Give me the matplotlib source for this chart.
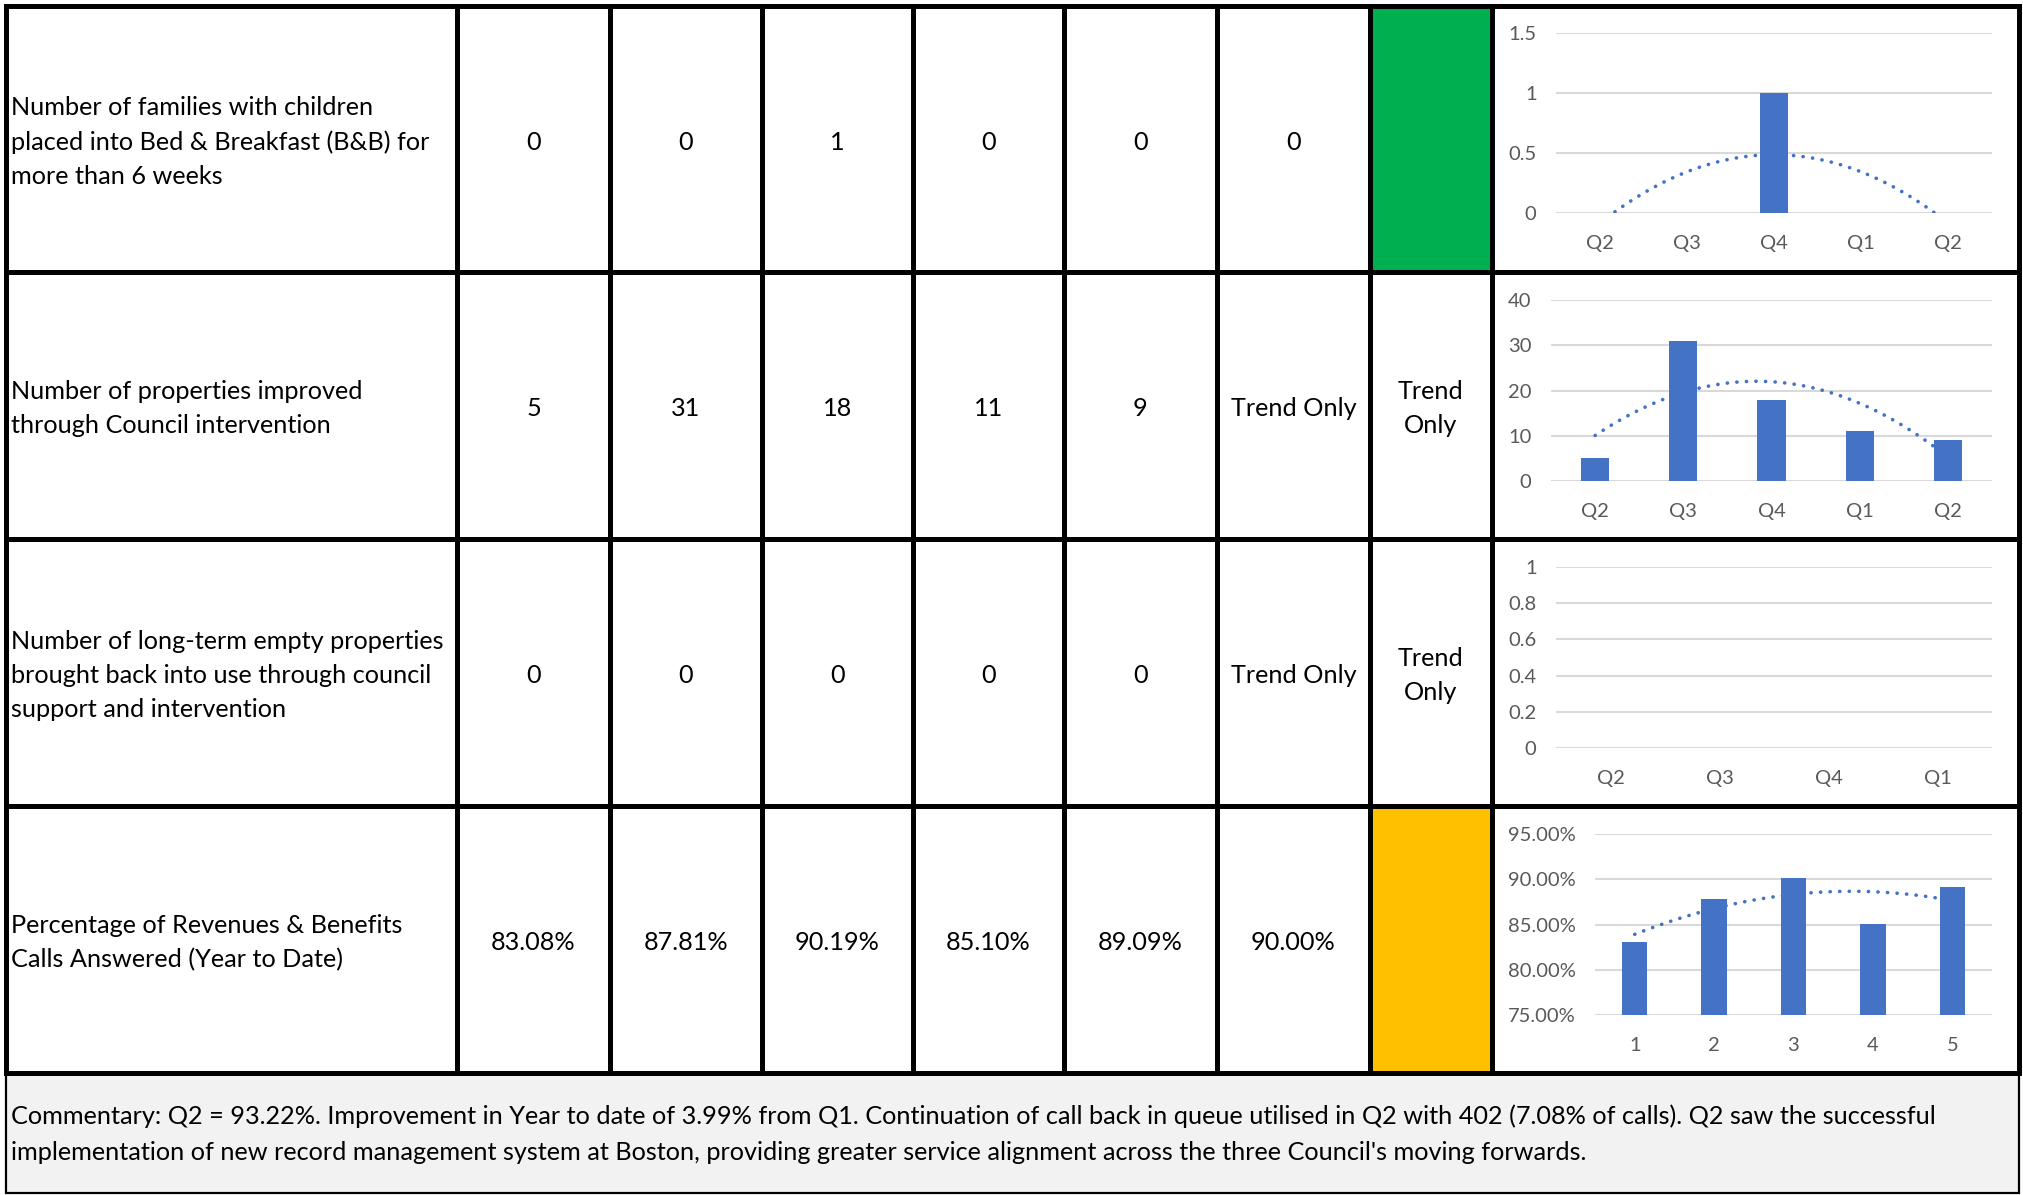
import numpy as np
import matplotlib
matplotlib.use("Agg")
from matplotlib import pyplot as plt
from matplotlib.patches import Rectangle

plt.rcParams['font.family'] = ['Lato', 'DejaVu Sans']

# table data
row_labels = [
    "Number of families with children\nplaced into Bed & Breakfast (B&B) for\nmore than 6 weeks",
    "Number of properties improved\nthrough Council intervention",
    "Number of long-term empty properties\nbrought back into use through council\nsupport and intervention",
    "Percentage of Revenues & Benefits\nCalls Answered (Year to Date)",
]
row1_vals = ["0", "0", "1", "0", "0", "0"]
row2_vals = ["5", "31", "18", "11", "9", "Trend Only"]
row3_vals = ["0", "0", "0", "0", "0", "Trend Only"]
row4_vals = ["83.08%", "87.81%", "90.19%", "85.10%", "89.09%", "90.00%"]
status_text = ["", "Trend\nOnly", "Trend\nOnly", ""]
status_fill = ["#00B050", "white", "white", "#FFC000"]
commentary = ("Commentary: Q2 = 93.22%. Improvement in Year to date of 3.99% from Q1. Continuation of call back in queue utilised in Q2 with 402 (7.08% of calls). Q2 saw the successful\n"
              "implementation of new record management system at Boston, providing greater service alignment across the three Council's moving forwards.")

# chart data
c1_cats = ["Q2", "Q3", "Q4", "Q1", "Q2"]
c1_vals = [0, 0, 1, 0, 0]
c2_cats = ["Q2", "Q3", "Q4", "Q1", "Q2"]
c2_vals = [5, 31, 18, 11, 9]
c3_cats = ["Q2", "Q3", "Q4", "Q1"]
c3_vals = [0, 0, 0, 0]
c4_cats = ["1", "2", "3", "4", "5"]
c4_vals = [83.08, 87.81, 90.19, 85.10, 89.09]

W, H = 2023, 1195
fig = plt.figure(figsize=(W / 100, H / 100), dpi=100)
bg = fig.add_axes([0, 0, 1, 1])
bg.set_xlim(0, W)
bg.set_ylim(H, 0)
bg.axis("off")

xs = [6, 457, 610, 762, 913, 1064, 1217, 1370, 1492, 2019]
ys = [6, 272, 539, 806, 1073]
lw_thick = 3.6
txt_size = 18.2

# commentary box
bg.add_patch(Rectangle((6, 1073), 2013, 120, facecolor="#F2F2F2", edgecolor="black", lw=1.6))
bg.text(11, 1134, commentary, ha="left", va="center", fontsize=txt_size, linespacing=1.7)

# status fills
for i, c in enumerate(status_fill):
    bg.add_patch(Rectangle((xs[7], ys[i]), xs[8] - xs[7], ys[i + 1] - ys[i], facecolor=c, edgecolor="none"))

# grid lines
for x in xs:
    bg.plot([x, x], [ys[0], ys[-1]], color="black", lw=lw_thick, solid_capstyle="projecting")
for y in ys:
    bg.plot([xs[0], xs[-1]], [y, y], color="black", lw=lw_thick, solid_capstyle="projecting")

# table text
all_vals = [row1_vals, row2_vals, row3_vals, row4_vals]
for i in range(4):
    yc = (ys[i] + ys[i + 1]) / 2 + 3
    bg.text(11, yc, row_labels[i], ha="left", va="center", fontsize=txt_size, linespacing=1.58)
    for j, v in enumerate(all_vals[i]):
        xc = (xs[j + 1] + xs[j + 2]) / 2
        bg.text(xc, yc, v, ha="center", va="center", fontsize=txt_size)
    if status_text[i]:
        bg.text((xs[7] + xs[8]) / 2, yc, status_text[i], ha="center", va="center",
                fontsize=txt_size, linespacing=1.58)


def px_axes(x0, y0, x1, y1):
    return fig.add_axes([x0 / W, 1 - y1 / H, (x1 - x0) / W, (y1 - y0) / H])


def mini_chart(ax, cats, vals, ylim, step, fmt, trend=True):
    x = np.arange(len(cats))
    ax.bar(x, vals, width=0.32, color="#4472C4", zorder=3)
    if trend:
        p = np.polyfit(x, vals, 2)
        xx = np.linspace(0, len(cats) - 1, 200)
        ax.plot(xx, np.polyval(p, xx), color="#4472C4", lw=2.6, linestyle=(0, (0.05, 2.6)),
                dash_capstyle="round", zorder=4)
    ax.set_xlim(-0.5, len(cats) - 0.5)
    ax.set_ylim(*ylim)
    ax.set_yticks(np.arange(ylim[0], ylim[1] + step / 2, step))
    ax.yaxis.set_major_formatter(matplotlib.ticker.FuncFormatter(fmt))
    ax.set_xticks(x)
    ax.set_xticklabels(cats)
    ax.grid(axis="y", color="#D9D9D9", lw=1.5, zorder=0)
    for s in ax.spines.values():
        s.set_visible(False)
    ax.tick_params(length=0, labelsize=14.5, labelcolor="#595959")
    ax.tick_params(axis="x", pad=16)
    ax.tick_params(axis="y", pad=14)
    ax.set_facecolor("none")


ax1 = px_axes(1556, 33, 1992, 213)
mini_chart(ax1, c1_cats, c1_vals, (0, 1.5), 0.5, lambda v, p: f"{v:g}")
ax2 = px_axes(1551, 300, 1992, 481)
mini_chart(ax2, c2_cats, c2_vals, (0, 40), 10, lambda v, p: f"{v:g}")
ax3 = px_axes(1556, 567, 1992, 748)
mini_chart(ax3, c3_cats, c3_vals, (0, 1), 0.2, lambda v, p: f"{v:g}", trend=False)
ax4 = px_axes(1595, 834, 1992, 1015)
mini_chart(ax4, c4_cats, c4_vals, (75, 95), 5, lambda v, p: f"{v:.2f}%")

fig.savefig("out.png", dpi=100)
